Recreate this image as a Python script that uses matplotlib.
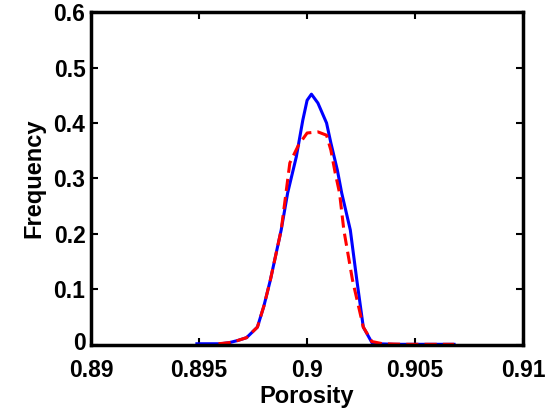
import matplotlib
matplotlib.use("Agg")
import matplotlib.pyplot as plt
import matplotlib.transforms as mtransforms

# values
blue_x = [0.8949, 0.8960, 0.8964, 0.8968, 0.8972, 0.8977, 0.8980, 0.8983,
          0.8988, 0.8991, 0.8995, 0.8998, 0.9000, 0.9002, 0.9005, 0.9009,
          0.9011, 0.9014, 0.9016, 0.9020, 0.9023, 0.9026, 0.9030, 0.9033,
          0.9040, 0.9050, 0.9060, 0.9068]
blue_y = [0.002, 0.002, 0.004, 0.008, 0.013, 0.032, 0.070, 0.117,
          0.207, 0.274, 0.339, 0.405, 0.441, 0.452, 0.436, 0.400,
          0.364, 0.315, 0.274, 0.207, 0.117, 0.032, 0.004, 0.002,
          0.001, 0.001, 0.001, 0.001]

red_x = [0.8959, 0.8964, 0.8968, 0.8972, 0.8977, 0.8980, 0.8983, 0.8988,
         0.8990, 0.8992, 0.8996, 0.9000, 0.9005, 0.9009, 0.9011, 0.9013,
         0.9015, 0.9017, 0.9021, 0.9026, 0.9030, 0.9035, 0.9045, 0.9055,
         0.9068]
red_y = [0.002, 0.004, 0.008, 0.013, 0.032, 0.070, 0.117, 0.207,
         0.267, 0.328, 0.360, 0.382, 0.384, 0.378, 0.351, 0.310,
         0.274, 0.207, 0.117, 0.032, 0.006, 0.002, 0.001, 0.001,
         0.001]

x_ticks = [0.89, 0.895, 0.9, 0.905, 0.91]
x_labels = ["0.89", "0.895", "0.9", "0.905", "0.91"]
y_ticks = [0, 0.1, 0.2, 0.3, 0.4, 0.5, 0.6]
y_labels = ["0", "0.1", "0.2", "0.3", "0.4", "0.5", "0.6"]

plt.rcParams['font.family'] = ['Liberation Sans', 'DejaVu Sans']
plt.rcParams['font.weight'] = 'bold'

fig = plt.figure(figsize=(5.45, 4.17), dpi=100)
ax = fig.add_axes([0.167, 0.173, 0.793, 0.798])

ax.plot(blue_x, blue_y, color='blue', lw=2.2)
ax.plot(red_x, red_y, color='red', lw=2.2, ls=(0, (4, 2)))

ax.set_xlim(0.89, 0.91)
ax.set_ylim(0, 0.6)
ax.set_xticks(x_ticks)
ax.set_xticklabels(x_labels)
ax.set_yticks(y_ticks)
ax.set_yticklabels(y_labels)

for s in ax.spines.values():
    s.set_linewidth(2.5)
ax.tick_params(direction='in', length=5, width=1.5, top=True, right=True,
               labelsize=16.5)
ax.tick_params(axis='x', pad=10)
ax.tick_params(axis='y', pad=4)
for lbl in ax.get_xticklabels() + ax.get_yticklabels():
    lbl.set_fontweight('bold')

# nudge the "0" on the y axis up a little so it clears "0.89"
shift = mtransforms.ScaledTranslation(0, 3 / 72, fig.dpi_scale_trans)
y0 = ax.get_yticklabels()[0]
y0.set_transform(y0.get_transform() + shift)

ax.set_xlabel("Porosity", fontsize=17, fontweight='bold', labelpad=2)
ax.set_ylabel("Frequency", fontsize=17, fontweight='bold', labelpad=6)

fig.savefig("out.png", dpi=100)
